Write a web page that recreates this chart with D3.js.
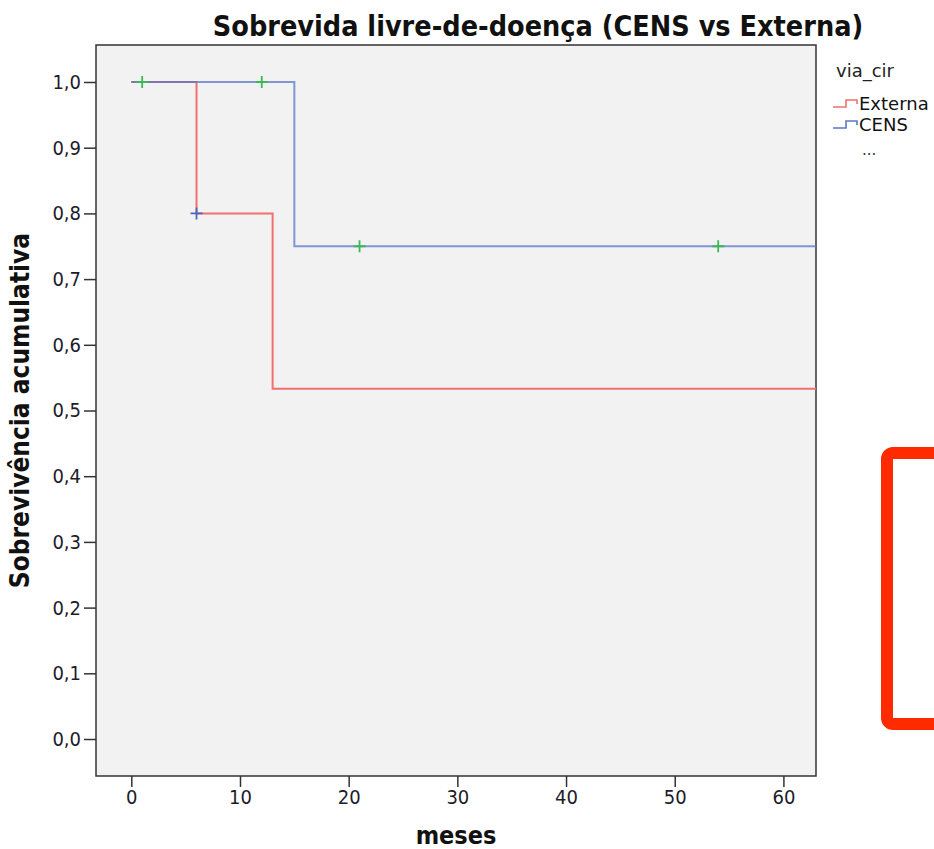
<!DOCTYPE html>
<html><head><meta charset="utf-8">
<script src="https://cdn.jsdelivr.net/npm/d3@7"></script>
<style>body{margin:0;background:#fff}svg{display:block}</style>
</head><body>
<svg id="c" width="934" height="849"></svg>
<script>
// Data
const xTicks = [0,10,20,30,40,50,60];
const yTicks = [0,0.1,0.2,0.3,0.4,0.5,0.6,0.7,0.8,0.9,1.0];
const seriesNames = ["Externa","CENS"];
const externaTime = [0, 6, 13, 63];
const externaSurv = [1.0, 0.8, 0.533, 0.533];
const censTime = [0, 15, 63];
const censSurv = [1.0, 0.75, 0.75];
// censor marks
const censorExternaTime = [6];
const censorExternaSurv = [0.8];
const censorCensTime = [1, 12, 21, 54];
const censorCensSurv = [1.0, 1.0, 0.75, 0.75];

const svg = d3.select("#c");
const L = 96, R = 816, T = 45, B = 776;
const x = d3.scaleLinear().domain([-3.25, 63]).range([L, R]);
const y = d3.scaleLinear().domain([-0.0563, 1.0563]).range([B, T]);
const fontC = "'DejaVu Sans Condensed','DejaVu Sans',sans-serif";
const font = "'DejaVu Sans',sans-serif";

svg.append("rect").attr("x", L).attr("y", T).attr("width", R-L).attr("height", B-T)
  .attr("fill", "#f2f2f2").attr("stroke", "#333").attr("stroke-width", 1.5);

// axes
const ax = svg.append("g").attr("transform", `translate(0,${B})`)
  .call(d3.axisBottom(x).tickValues(xTicks).tickSize(11).tickPadding(3).tickFormat(d3.format("d")));
const ay = svg.append("g").attr("transform", `translate(${L},0)`)
  .call(d3.axisLeft(y).tickValues(yTicks).tickSize(12).tickPadding(3).tickFormat(d => d.toFixed(1).replace(".", ",")));
[ax, ay].forEach(g => {
  g.select(".domain").remove();
  g.selectAll(".tick line").attr("stroke", "#333").attr("stroke-width", 1.5);
  g.selectAll(".tick text").attr("font-family", fontC).attr("font-size", 20).attr("fill", "#1c1c2a");
});

// lines
const step = d3.line().x(d => x(d[0])).y(d => y(d[1])).curve(d3.curveStepAfter);
const ext = externaTime.map((t,i) => [t, externaSurv[i]]);
const cen = censTime.map((t,i) => [t, censSurv[i]]);
svg.append("path").attr("d", step(ext)).attr("fill", "none").attr("stroke", "#f0706e").attr("stroke-width", 2);
svg.append("path").attr("d", step(cen)).attr("fill", "none").attr("stroke", "#5a78c8").attr("stroke-width", 2).attr("stroke-opacity", 0.75);

function plus(tArr, sArr, color) {
  tArr.forEach((t,i) => {
    const cx = x(t), cy = y(sArr[i]);
    svg.append("path").attr("d", `M${cx-6},${cy}H${cx+6}M${cx},${cy-6}V${cy+6}`)
      .attr("stroke", color).attr("stroke-width", 1.8).attr("fill", "none");
  });
}
plus(censorExternaTime, censorExternaSurv, "#4a68c0");
plus(censorCensTime, censorCensSurv, "#3cb85a");

// titles
svg.append("text").attr("x", 538).attr("y", 36).attr("text-anchor", "middle")
  .attr("font-family", fontC).attr("font-weight", "bold").attr("font-size", 28.5).attr("fill", "#111")
  .text("Sobrevida livre-de-doença (CENS vs Externa)");
svg.append("text").attr("x", 456).attr("y", 844).attr("text-anchor", "middle")
  .attr("font-family", fontC).attr("font-weight", "bold").attr("font-size", 25).attr("fill", "#111")
  .text("meses");
svg.append("text").attr("transform", `translate(29,${(T+B)/2}) rotate(-90)`).attr("text-anchor", "middle")
  .attr("font-family", fontC).attr("font-weight", "bold").attr("font-size", 26).attr("fill", "#111")
  .text("Sobrevivência acumulativa");

// legend
const lg = svg.append("g");
lg.append("text").attr("x", 836).attr("y", 77).attr("font-family", font).attr("font-size", 18).attr("fill", "#222").text("via_cir");
const lcol = ["#f0706e", "#5a78c8"];
seriesNames.forEach((n,i) => {
  const yy = 104 + i*21;
  lg.append("path").attr("d", `M833,${yy+3}H846V${yy-4}H857V${yy}`).attr("fill","none").attr("stroke", lcol[i]).attr("stroke-width", 1.6);
  lg.append("text").attr("x", 859).attr("y", yy+6).attr("font-family", font).attr("font-size", 18).attr("fill", "#111").text(n);
});
lg.append("text").attr("x", 862).attr("y", 155).attr("font-family", font).attr("font-size", 15).attr("fill", "#333").text("...");

// red annotation box
svg.append("rect").attr("x", 887).attr("y", 453).attr("width", 80).attr("height", 271).attr("rx", 6)
  .attr("fill", "none").attr("stroke", "#ff2a00").attr("stroke-width", 12);
</script>
</body></html>
